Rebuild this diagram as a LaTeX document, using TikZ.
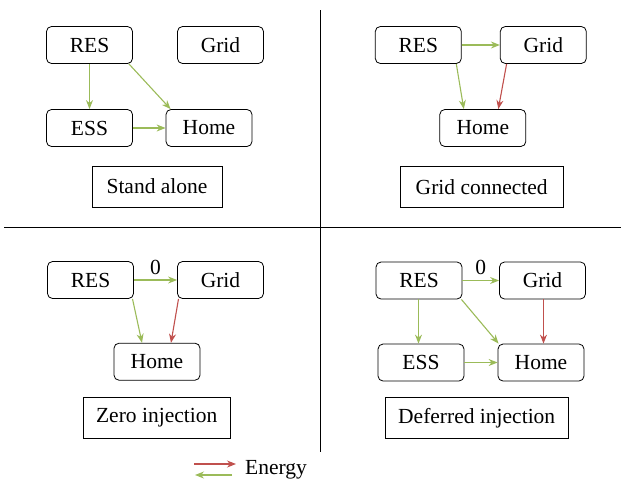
\documentclass[tikz,border=0pt]{standalone}
\usepackage{fontspec}
\setmainfont{Liberation Serif}
\usetikzlibrary{arrows.meta}
\definecolor{eg}{RGB}{155,187,89}
\definecolor{er}{RGB}{192,80,77}
\begin{document}
\begin{tikzpicture}[x=1pt,y=-1pt,
  box/.style={draw,rounded corners=5pt,minimum width=86pt,minimum height=37pt,inner sep=0pt,font=\fontsize{21.5}{25}\selectfont,line width=0.8pt},
  lbl/.style={draw,minimum height=41pt,inner sep=0pt,font=\fontsize{21.5}{25}\selectfont,line width=0.8pt},
  ga/.style={draw=eg,line width=1.1pt,-{Stealth[length=9pt,width=7pt]}},
  ra/.style={draw=er,line width=1.1pt,-{Stealth[length=9pt,width=7pt]}},
  txt/.style={font=\fontsize{21.5}{25}\selectfont,inner sep=0pt}]
\useasboundingbox (0,0) rectangle (623,480);
% dividers
\coordinate (vt) at (320,10);
\coordinate (vb) at (320,452);
\coordinate (hl) at (4,227);
\coordinate (hr) at (621,227);
\draw[line width=0.8pt] (vt) -- (vb);
\draw[line width=0.8pt] (hl) -- (hr);
% top-left
\node[box] (res1) at (89.5,45) {RES};
\node[box] (grid1) at (220.5,45) {Grid};
\node[box] (ess1) at (89.5,128) {ESS};
\node[box] (home1) at (209,128) {Home};
\node[lbl,minimum width=130pt] (l1) at (157,186.5) {Stand alone};
\draw[ga] (res1.south) -- (ess1.north);
\draw[ga] ([xshift=-4pt]res1.south east) -- ([xshift=5pt]home1.north west);
\draw[ga] (ess1.east) -- (home1.west);
% top-right
\node[box] (res2) at (418.3,45) {RES};
\node[box] (grid2) at (543.3,45) {Grid};
\node[box] (home2) at (482.8,128) {Home};
\node[lbl,minimum width=163pt] (l2) at (481.7,186.7) {Grid connected};
\draw[ga] (res2.east) -- (grid2.west);
\draw[ga] ([xshift=38pt]res2.south) -- ([xshift=-19pt]home2.north);
\draw[ra] ([xshift=-36.7pt]grid2.south) -- ([xshift=15.5pt]home2.north);
% bottom-left
\node[box] (res3) at (90.5,280) {RES};
\node[box] (grid3) at (220.5,280) {Grid};
\node[box] (home3) at (157,361.7) {Home};
\node[lbl,minimum width=147pt] (l3) at (156.7,417.8) {Zero injection};
\draw[ga] (res3.east) -- node[txt,above=5pt] {0} (grid3.west);
\draw[ga] ([xshift=42pt]res3.south) -- ([xshift=-15pt]home3.north);
\draw[ra] ([xshift=-42pt]grid3.south) -- ([xshift=14pt]home3.north);
% bottom-right
\node[box] (res4) at (419,280.5) {RES};
\node[box] (grid4) at (542.5,280.5) {Grid};
\node[box] (ess4) at (421,362.5) {ESS};
\node[box] (home4) at (541,362.5) {Home};
\node[lbl,minimum width=183pt] (l4) at (476.7,418) {Deferred injection};
\draw[ga] (res4.east) -- node[txt,above=5pt] {0} (grid4.west);
\draw[ga] ([xshift=-0.5pt]res4.south) -- ([xshift=-2.5pt]ess4.north);
\draw[ga] ([xshift=-1pt]res4.south east) -- ([xshift=1pt]home4.north west);
\draw[ra] ([xshift=1pt]grid4.south) -- ([xshift=2.5pt]home4.north);
\draw[ga] (ess4.east) -- (home4.west);
% legend
\coordinate (ra1) at (194,464);
\coordinate (ra2) at (236,464);
\coordinate (ga1) at (232,475);
\coordinate (ga2) at (195,475);
\draw[ra] (ra1) -- (ra2);
\draw[ga] (ga1) -- (ga2);
\node[txt,anchor=base west] (en) at (245,474.5) {Energy};
\end{tikzpicture}
\end{document}
